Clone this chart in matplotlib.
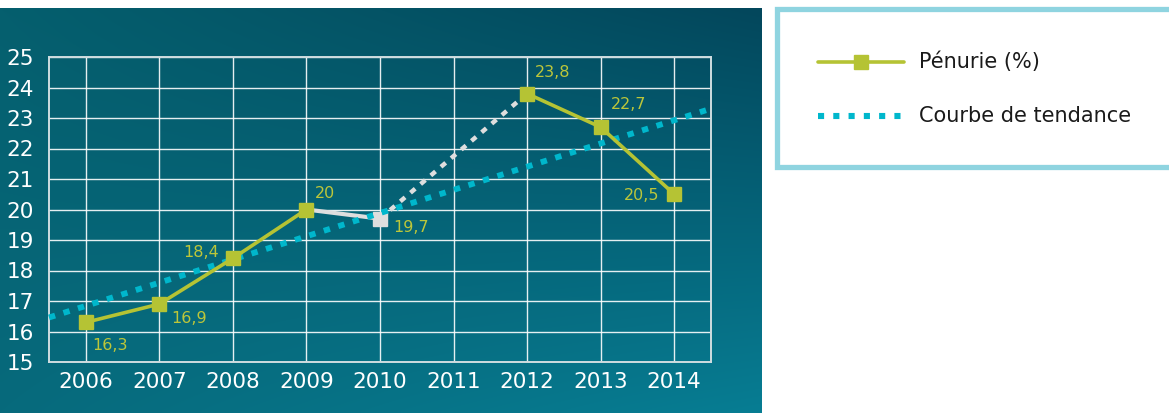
import numpy as np
import matplotlib
matplotlib.use("Agg")
import matplotlib.pyplot as plt
from matplotlib.lines import Line2D
from matplotlib.patches import Rectangle

plt.rcParams['font.family'] = ['DejaVu Sans']

# Shortage rate by year (2011 not reported)
years = [2006, 2007, 2008, 2009, 2010, 2011, 2012, 2013, 2014]
penurie = [16.3, 16.9, 18.4, 20.0, 19.7, np.nan, 23.8, 22.7, 20.5]
y_ticks = [15, 16, 17, 18, 19, 20, 21, 22, 23, 24, 25]
legend_labels = ["Pénurie (%)", "Courbe de tendance"]

# label offsets in pixels and alignment for each reported point
label_offsets = {2006: (6, -23, 'left'), 2007: (12, -14, 'left'),
                 2008: (-14, 6, 'right'), 2009: (8, 16, 'left'),
                 2010: (13, -9, 'left'), 2012: (8, 21, 'left'),
                 2013: (10, 23, 'left'), 2014: (-15, -1, 'right')}

W, H = 1169, 413
DPI = 100
fig = plt.figure(figsize=(W / DPI, H / DPI), dpi=DPI)
fig.patch.set_facecolor('white')

GREEN = '#b5c334'
CYAN = '#00b7cc'
GREY = '#dedede'
LABEL = '#bcc63a'


def fx(px):
    return px / W


def fy(py):
    return 1 - py / H


# gradient panel behind the chart
bg = fig.add_axes([0, 0, fx(762), fy(8)])
bg.set_axis_off()
tl = np.array([0x05, 0x5f, 0x6e]) / 255
tr = np.array([0x03, 0x47, 0x5c]) / 255
bl = np.array([0x07, 0x6a, 0x7c]) / 255
br = np.array([0x07, 0x7d, 0x93]) / 255
u = np.linspace(0, 1, 200)[None, :, None]
v = np.linspace(0, 1, 100)[:, None, None]
img = (1 - v) * ((1 - u) * tl + u * tr) + v * ((1 - u) * bl + u * br)
bg.imshow(img, aspect='auto', extent=[0, 1, 0, 1], interpolation='bilinear')
bg.set_xlim(0, 1)
bg.set_ylim(0, 1)

# plotting area
ax = fig.add_axes([fx(49), fy(362), fx(711) - fx(49), fy(57) - fy(362)])
ax.patch.set_alpha(0)
ax.set_xlim(2005.5, 2014.5)
ax.set_ylim(15, 25)
ax.set_xticks(years)
ax.set_xticklabels([str(y) for y in years])
ax.set_yticks(y_ticks)
ax.set_yticklabels([str(t) for t in y_ticks])
ax.tick_params(length=0, colors='white')
ax.tick_params(axis='x', labelsize=15.5, pad=7)
ax.tick_params(axis='y', labelsize=15.5, pad=11)
ax.grid(True, color='white', linewidth=1.0, alpha=0.9)
ax.set_axisbelow(True)
for s in ax.spines.values():
    s.set_color('#cfdde0')
    s.set_linewidth(1.4)

x = np.array(years, dtype=float)
y = np.array(penurie, dtype=float)
ok = ~np.isnan(y)

# linear trend through the reported years
coef = np.polyfit(x[ok], y[ok], 1)
xt = np.array([2005.5, 2014.5])
ax.plot(xt, np.polyval(coef, xt), color=CYAN, linewidth=4.2,
        linestyle=(0, (1.1, 1.5)), dash_capstyle='butt', zorder=4,
        clip_on=False)

i09, i10, i12 = years.index(2009), years.index(2010), years.index(2012)

# gap across the missing year
ax.plot([x[i10], x[i12]], [y[i10], y[i12]], color=GREY, linewidth=3.2,
        linestyle=(0, (1.4, 1.6)), zorder=3)
# 2009 to 2010 segment
ax.plot([x[i09], x[i10]], [y[i09], y[i10]], color=GREY, linewidth=3.0,
        zorder=3, solid_capstyle='butt')
ax.plot(x[i10], y[i10], marker='s', markersize=10, color=GREY, zorder=3)

# shortage series
for seg in (slice(0, i09 + 1), slice(i12, len(years))):
    ax.plot(x[seg], y[seg], color=GREEN, linewidth=2.6, marker='s',
            markersize=10, zorder=5)

for yr, val in zip(years, penurie):
    if np.isnan(val):
        continue
    dx, dy, ha = label_offsets[yr]
    txt = f"{val:g}".replace('.', ',')
    ax.annotate(txt, (yr, val), xytext=(dx, dy), textcoords='offset pixels',
                ha=ha, va='center', color=LABEL, fontsize=11.5, zorder=6)

# legend panel
fig.add_artist(Rectangle((fx(777), fy(167)), fx(1200) - fx(777),
                         fy(9) - fy(167), transform=fig.transFigure,
                         facecolor='white', edgecolor='#8fd4e0',
                         linewidth=3.8, clip_on=False))
fig.add_artist(Line2D([fx(818), fx(904)], [fy(62), fy(62)], color=GREEN,
                      linewidth=2.6, transform=fig.transFigure,
                      solid_capstyle='round'))
fig.add_artist(Line2D([fx(861)], [fy(62)], marker='s', markersize=9.5,
                      color=GREEN, transform=fig.transFigure))
fig.add_artist(Line2D([fx(818), fx(902)], [fy(116), fy(116)], color=CYAN,
                      linewidth=4.4, linestyle=(0, (1.0, 1.5)),
                      dash_capstyle='butt', transform=fig.transFigure))
for row, lab in zip((62, 116), legend_labels):
    fig.text(fx(919), fy(row), lab, ha='left', va='center', fontsize=15,
             color='#1a1a1a')

fig.savefig('out.png', dpi=DPI, facecolor='white')
